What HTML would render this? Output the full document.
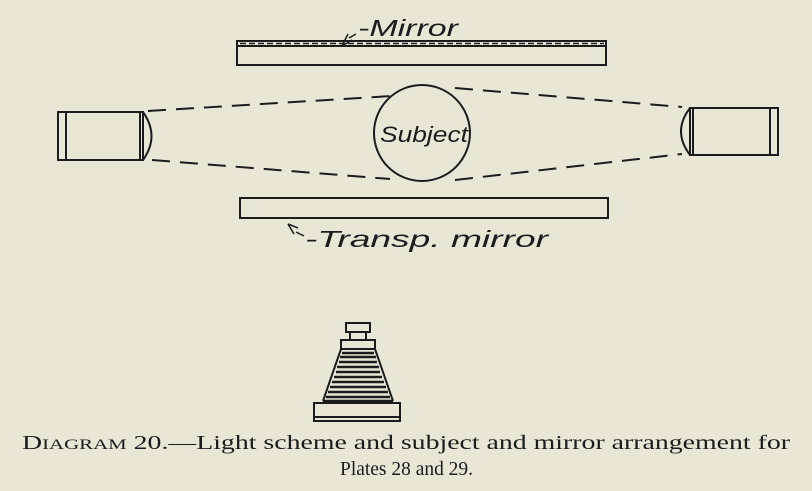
<!DOCTYPE html>
<html><head><style>
body{margin:0;background:#e9e6d5;}
svg{display:block}
</style></head><body>
<svg width="812" height="491" viewBox="0 0 812 491" xmlns="http://www.w3.org/2000/svg">
<rect width="812" height="491" fill="#e9e6d5"/>
<g stroke="#1c1c1c" stroke-width="2" fill="none">
<rect x="237" y="41" width="369" height="24"/>
<line x1="237" y1="46" x2="606" y2="46"/>
<line x1="240" y1="43.5" x2="604" y2="43.5" stroke-dasharray="6,3" stroke-width="1.5"/>
<rect x="240" y="198" width="368" height="20"/>
<circle cx="422" cy="133" r="48"/>
<rect x="58" y="112" width="85" height="48"/>
<line x1="66" y1="112" x2="66" y2="160"/>
<line x1="140" y1="112" x2="140" y2="160"/>
<path d="M143 112 Q160 136 143 160"/>
<rect x="690" y="108" width="88" height="47"/>
<line x1="770" y1="108" x2="770" y2="155"/>
<line x1="693" y1="108" x2="693" y2="155"/>
<path d="M690 108 Q672 131 690 155"/>
<g stroke-dasharray="18,10">
<line x1="148" y1="111" x2="392" y2="96"/>
<line x1="152" y1="160" x2="390" y2="179"/>
<line x1="455" y1="88" x2="682" y2="107"/>
<line x1="455" y1="180" x2="682" y2="154"/>
</g>
<path d="M342 46 L348 34 M342 46 L352 40 M349 38 L356 34" stroke-width="1.5"/>
<path d="M288 224 L294 234 M288 224 L298 228 M296 232 L304 236" stroke-width="1.5"/>
<rect x="346" y="323" width="24" height="9"/>
<rect x="350" y="332" width="16" height="8"/>
<rect x="341" y="340" width="34" height="9"/>
<g stroke-width="2.6">
<path d="M342 353 h32"/><path d="M340 357 h36"/><path d="M339 362 h38"/><path d="M337 367 h42"/>
<path d="M336 372 h44"/><path d="M334 377 h48"/><path d="M332 382 h52"/><path d="M330 387 h56"/>
<path d="M328 392 h60"/><path d="M326 397 h64"/><path d="M323 401 h70"/>
</g>
<path d="M341 349 L323 401 M375 349 L393 401" stroke-width="2"/>
<rect x="314" y="403" width="86" height="18"/>
<line x1="314" y1="417" x2="400" y2="417"/>
</g>
<g font-family="Liberation Sans, sans-serif" font-style="italic" fill="#1c1c1c">
<text x="358" y="36" font-size="23" textLength="100" lengthAdjust="spacingAndGlyphs">-Mirror</text>
<text x="305" y="247" font-size="23" textLength="243" lengthAdjust="spacingAndGlyphs">-Transp. mirror</text>
<text x="380" y="142" font-size="22" textLength="88" lengthAdjust="spacingAndGlyphs">Subject</text>
</g>
<g font-family="Liberation Serif, serif" fill="#1c1c1c" font-size="20">
<text x="22" y="449" textLength="768" lengthAdjust="spacingAndGlyphs">D<tspan font-size="15">IAGRAM</tspan> 20.—Light scheme and subject and mirror arrangement for</text>
<text x="340" y="475" textLength="133" lengthAdjust="spacingAndGlyphs">Plates 28 and 29.</text>
</g>
</svg>
</body></html>
